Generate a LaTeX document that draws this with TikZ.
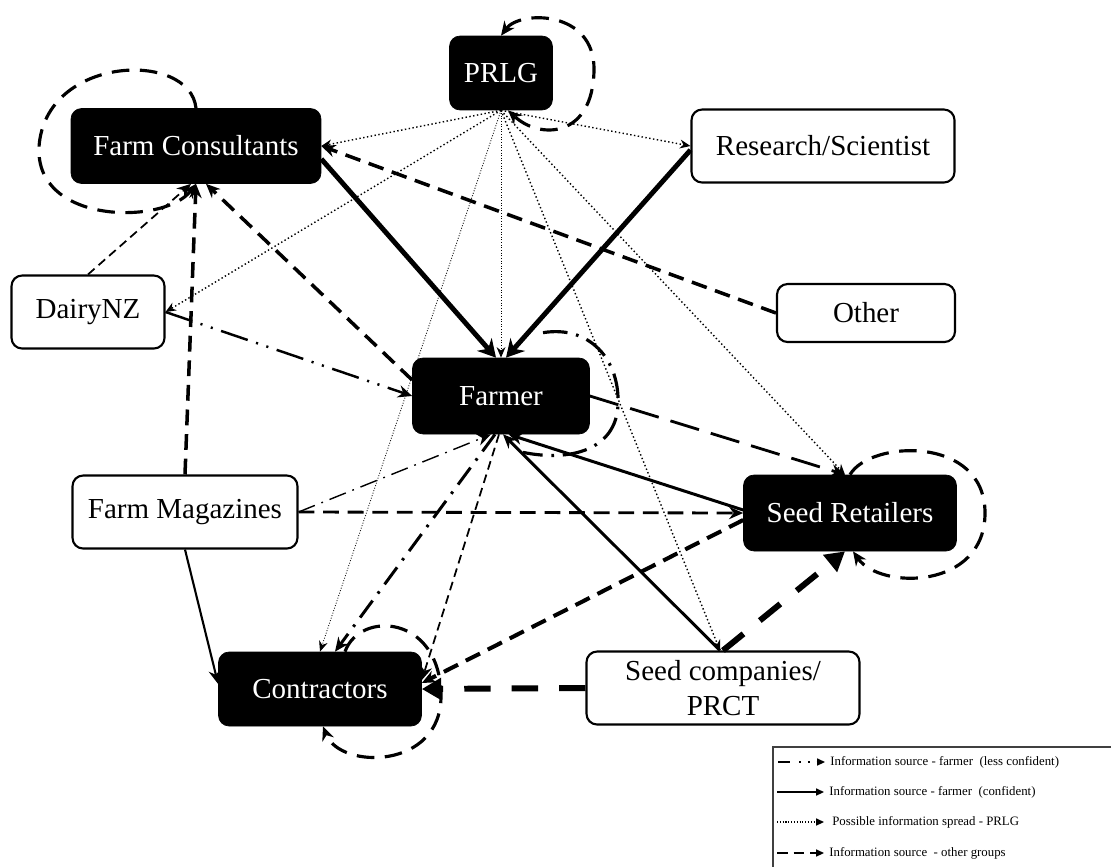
\documentclass[tikz,border=0pt]{standalone}
\usepackage{fontspec}
\setmainfont{Liberation Serif}
\usetikzlibrary{arrows.meta, calc}
\newcommand{\boxfont}{\fontsize{16.5}{19.5}\selectfont}
\newcommand{\keyfont}{\fontsize{7.3}{9}\selectfont}

\tikzset{
  darkbox/.style={draw=black, fill=black, text=white, rounded corners=6pt, font=\boxfont},
  lightbox/.style={draw=black, fill=white, line width=1.2pt, rounded corners=6pt, font=\boxfont, align=center},
  arrowtip/.style={-{Stealth[length=8pt,width=7pt]}},
  confline/.style={line width=1.7pt, arrowtip},
  strongline/.style={line width=2.8pt, -{Stealth[length=10pt,width=11pt]}},
  lessline/.style={line width=1.4pt, dash pattern=on 16pt off 5pt on 1.2pt off 5pt on 1.2pt off 5pt, arrowtip},
  spreadline/.style={line width=0.8pt, dash pattern=on 0.8pt off 1.4pt, -{Stealth[length=6pt,width=5pt]}},
  otherline/.style={line width=2pt, dash pattern=on 9pt off 5pt, arrowtip},
  heavyline/.style={line width=3.4pt, dash pattern=on 15pt off 12pt, -{Triangle[length=11pt,width=12pt]}},
  loopline/.style={line width=1.8pt, dash pattern=on 10pt off 6pt},
  keylabel/.style={anchor=west, inner sep=0pt, font=\keyfont},
  keyline/.style={line width=0.8pt, -{Triangle[length=4.5pt,width=4pt]}}
}

\begin{document}
\begin{tikzpicture}[x=0.02cm, y=0.02cm]
    \useasboundingbox (0,0) rectangle (1111,-866);

    \node (prlg) [darkbox, minimum width=2.06cm, minimum height=1.48cm] at (501,-73) {PRLG};
    \node (fc) [darkbox, minimum width=5cm, minimum height=1.5cm] at (196,-146) {Farm Consultants};
    \node (res) [lightbox, minimum width=5.26cm, minimum height=1.46cm] at (823,-146) {Research/Scientist};
    \node (dnz) [lightbox, minimum width=3.06cm, minimum height=1.46cm] at (88,-312) {DairyNZ};
    \node (oth) [lightbox, minimum width=3.56cm, minimum height=1.16cm] at (866,-313) {Other};
    \node (farmer) [darkbox, minimum width=3.54cm, minimum height=1.52cm] at (501,-396) {Farmer};
    \node (mag) [lightbox, minimum width=4.5cm, minimum height=1.46cm] at (185,-512) {Farm Magazines};
    \node (ret) [darkbox, minimum width=4.26cm, minimum height=1.52cm] at (850,-513) {Seed Retailers};
    \node (con) [darkbox, minimum width=4.06cm, minimum height=1.48cm] at (320,-689) {Contractors};
    \node (sco) [lightbox, minimum width=5.46cm, minimum height=1.46cm] at (723,-688) {Seed companies/\\PRCT};

    % PRLG spread
    \draw[spreadline] (prlg.south) -- (fc.east);
    \draw[spreadline] (prlg.south) -- (res.west);
    \draw[spreadline] (prlg.south) -- (dnz.east);
    \draw[spreadline, line width=0.5pt, dash pattern=on 0.5pt off 1pt] (prlg.south) -- (farmer.north);
    \draw[spreadline, line width=0.5pt, dash pattern=on 0.5pt off 1pt] (prlg.south) -- (con.north);
    \draw[spreadline] (prlg.south) -- ([xshift=-0.06cm]sco.north);
    \draw[spreadline] (prlg.south) -- ([xshift=-0.1cm]ret.north);

    \draw[strongline] ([yshift=-0.26cm]fc.east) -- ([xshift=-0.1cm]farmer.north);
    \draw[strongline] ([yshift=-0.08cm]res.west) -- ([xshift=0.1cm]farmer.north);
    \draw[confline] ([yshift=0.06cm]ret.west) -- ([xshift=0.15cm]farmer.south);
    \draw[confline] ([xshift=-0.06cm]sco.north) -- ([xshift=0.04cm]farmer.south);
    \draw[confline, line width=1.2pt] (mag.south) -- ([yshift=0.1cm]con.west);

    \draw[lessline] (dnz.east) -- (farmer.west);
    \draw[lessline, line width=0.8pt, dash pattern=on 10pt off 4pt on 1pt off 4pt] (mag.east) -- ([xshift=-0.2cm]farmer.south);
    \draw[lessline, line width=1.7pt, dash pattern=on 12pt off 5pt on 1.5pt off 5pt] ([xshift=-0.12cm]farmer.south) -- ([xshift=0.3cm]con.north);

    \draw[otherline] (oth.west) -- (fc.east);
    \draw[otherline] (mag.north) -- (fc.south);
    \draw[otherline, line width=1pt, dash pattern=on 5pt off 3pt] (dnz.north) -- ([xshift=-0.1cm]fc.south);
    \draw[otherline] ([yshift=0.32cm]farmer.west) -- ([xshift=0.2cm]fc.south);
    \draw[otherline, line width=1.6pt, dash pattern=on 17pt off 7pt] (farmer.east) -- ([xshift=-0.1cm]ret.north);
    \draw[otherline, line width=1.6pt] (mag.east) -- (ret.west);
    \draw[otherline, line width=1pt, dash pattern=on 5pt off 3pt] ([xshift=-0.04cm]farmer.south) -- ([yshift=0.18cm]con.east);
    \draw[otherline, line width=2.3pt] ([yshift=-0.14cm]ret.west) -- ([yshift=0.12cm]con.east);
    \draw[heavyline] (sco.west) -- (con.east);
    \draw[heavyline] (sco.north) -- ([xshift=-0.1cm]ret.south);

    % self loops
    \draw[loopline, {Stealth[length=8pt,width=7pt]}-{Stealth[length=8pt,width=7pt]}] (prlg.north) .. controls (520,-10) and (595,-10) .. (594,-70) .. controls (593,-138) and (540,-140) .. ([xshift=0.14cm]prlg.south);
    \draw[loopline, arrowtip] (fc.north) .. controls (190,-50) and (45,-55) .. (39,-147) .. controls (35,-225) and (165,-225) .. (fc.south);
    \draw[loopline, dash pattern=on 14pt off 5pt on 1.5pt off 5pt] ([shift={(0.84cm,0.5cm)}]farmer.north) .. controls (590,-325) and (620,-360) .. (618,-405) .. controls (616,-450) and (570,-462) .. ([shift={(0.44cm,-0.36cm)}]farmer.south);
    \draw[loopline, arrowtip] (ret.north) .. controls (870,-440) and (985,-435) .. (985,-513) .. controls (985,-590) and (880,-590) .. ([xshift=0.06cm]ret.south);
    \draw[loopline, arrowtip] ([xshift=0.5cm]con.north) .. controls (360,-610) and (440,-615) .. (441,-695) .. controls (442,-770) and (340,-770) .. ([xshift=0.06cm]con.south);

    % key
    \draw[line width=0.6pt, draw=black!75] (773,-747) rectangle (1125,-880);
    \node (key1) [keylabel] at (830,-762) {Information source - farmer~ (less confident)};
    \node (key2) [keylabel] at (829,-792) {Information source - farmer~ (confident)};
    \node (key3) [keylabel] at (832,-822) {Possible information spread - PRLG};
    \node (key4) [keylabel] at (829,-853) {Information source~ - other groups};
    \draw[keyline, dash pattern=on 7pt off 5pt on 1pt off 4pt on 1pt off 4pt] ([xshift=-1.04cm]key1.west) -- ([xshift=-0.1cm]key1.west);
    \draw[keyline] ([xshift=-1.04cm]key2.west) -- ([xshift=-0.1cm]key2.west);
    \draw[keyline, dash pattern=on 0.6pt off 1pt] ([xshift=-1.1cm]key3.west) -- ([xshift=-0.16cm]key3.west);
    \draw[keyline, dash pattern=on 6pt off 3.5pt] ([xshift=-1.04cm]key4.west) -- ([xshift=-0.1cm]key4.west);
\end{tikzpicture}
\end{document}
